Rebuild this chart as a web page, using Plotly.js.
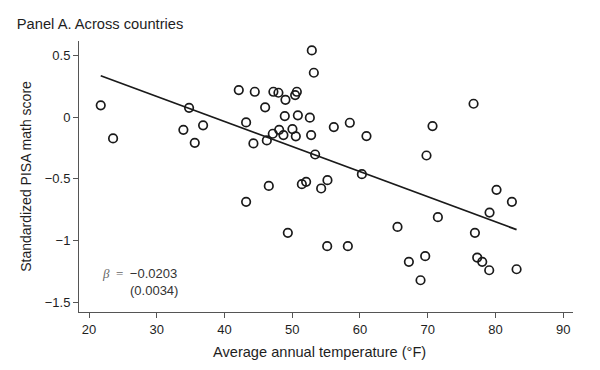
<!DOCTYPE html>
<html>
<head>
<meta charset="utf-8">
<script src="https://cdn.plot.ly/plotly-3.0.1.min.js"></script>
<style>html,body{margin:0;padding:0;background:#fff;}#chart{width:600px;height:370px;}</style>
</head>
<body>
<div id="chart"></div>
<script>
// Average annual temperature (°F) per country
const temperature = [21.73, 23.55, 34.77, 33.93, 36.84, 35.61, 42.11, 44.47, 47.22, 47.96,
  49.0, 50.43, 50.68, 43.19, 46.0, 48.9, 50.83, 48.07, 47.13, 48.7,
  50.03, 50.53, 46.25, 44.27, 46.54, 43.19, 49.35, 52.89, 53.19, 52.6,
  52.79, 56.14, 58.5, 60.96, 53.38, 60.28, 51.42, 52.05, 55.2, 54.27,
  70.71, 76.77, 69.82, 80.16, 82.43, 79.13, 71.5, 65.54, 76.97, 55.16,
  58.21, 69.63, 67.22, 77.31, 78.05, 79.08, 83.12, 68.94];
// Standardized PISA math score per country
const mathScore = [0.095, -0.173, 0.075, -0.103, -0.067, -0.208, 0.219, 0.205, 0.205, 0.197,
  0.140, 0.178, 0.205, -0.043, 0.079, 0.008, 0.014, -0.103, -0.135, -0.146,
  -0.097, -0.156, -0.189, -0.213, -0.557, -0.686, -0.937, 0.540, 0.359, -0.005,
  -0.146, -0.081, -0.046, -0.154, -0.303, -0.462, -0.543, -0.524, -0.511, -0.578,
  -0.073, 0.108, -0.311, -0.589, -0.686, -0.773, -0.810, -0.889, -0.937, -1.045,
  -1.045, -1.126, -1.172, -1.137, -1.172, -1.240, -1.232, -1.321];
// Fitted regression
const fitSlope = -0.0203;
const fitSE = 0.0034;
const fitIntercept = 0.776;
const xTicks = [20, 30, 40, 50, 60, 70, 80, 90];
const yTicks = [-1.5, -1, -0.5, 0, 0.5];

const xMin = Math.min(...temperature), xMax = Math.max(...temperature);
const fitX = [xMin, xMax];
const fitY = fitX.map(x => fitIntercept + fitSlope * x);

const textColor = '#1e1e1e';
const sans = 'Liberation Sans, Arial, sans-serif';
const font = {family: sans, size: 13, color: textColor};
const fmtMinus = v => v < 0 ? '\u2212' + String(-v) : String(v);

const traces = [
  {x: temperature, y: mathScore, type: 'scatter', mode: 'markers',
   marker: {symbol: 'circle-open', size: 8.5, color: '#1a1a1a', line: {width: 1.7, color: '#1a1a1a'}},
   hoverinfo: 'skip', showlegend: false},
  {x: fitX, y: fitY, type: 'scatter', mode: 'lines',
   line: {color: '#1a1a1a', width: 1.7}, hoverinfo: 'skip', showlegend: false}
];

const margin = {l: 79, r: 27.3, t: 41, b: 58.3, pad: 0};
const plotW = 600 - margin.l - margin.r, plotH = 370 - margin.t - margin.b;

const layout = {
  width: 600, height: 370,
  paper_bgcolor: '#fff', plot_bgcolor: '#fff',
  font: font,
  margin: margin,
  title: {text: 'Panel A. Across countries', x: 0.028, xanchor: 'left', y: 0.935, yanchor: 'middle',
          font: {family: sans, size: 14.7, color: textColor}},
  xaxis: {range: [18.52, 91.45], tickvals: xTicks, ticktext: xTicks.map(String),
          showline: true, linecolor: '#555', linewidth: 1, mirror: false,
          ticks: 'outside', ticklen: 5, tickcolor: '#555', tickwidth: 1,
          showgrid: false, zeroline: false, tickfont: {size: 13, color: textColor}},
  yaxis: {range: [-1.578, 0.616], tickvals: yTicks, ticktext: yTicks.map(fmtMinus),
          showline: true, linecolor: '#555', linewidth: 1,
          ticks: 'outside', ticklen: 5, tickcolor: '#555', tickwidth: 1,
          showgrid: false, zeroline: false, tickfont: {size: 13, color: textColor},
          title: {text: 'Standardized PISA math score', font: {size: 14, color: textColor}, standoff: 9}},
  annotations: [
    {x: (319 - margin.l) / plotW, y: 1 - (352 - margin.t) / plotH, xref: 'paper', yref: 'paper',
     yanchor: 'middle', xanchor: 'center', showarrow: false, text: 'Average annual temperature (°F)',
     font: {family: sans, size: 14.6, color: textColor}},
    {x: 21.62, y: -1.268, xref: 'x', yref: 'y', xanchor: 'left', yanchor: 'middle', showarrow: false,
     text: '<span style="font-family:Liberation Serif, serif;color:#666"><i>β</i>\u2002=\u2002</span>\u2212' + Math.abs(fitSlope).toFixed(4),
     font: {size: 13, color: '#333'}},
    {x: 29.53, y: -1.402, xref: 'x', yref: 'y', xanchor: 'center', yanchor: 'middle', showarrow: false,
     text: '(' + fitSE.toFixed(4) + ')', font: {size: 13, color: '#333'}}
  ]
};

Plotly.newPlot('chart', traces, layout, {staticPlot: true, displayModeBar: false});
</script>
</body>
</html>
